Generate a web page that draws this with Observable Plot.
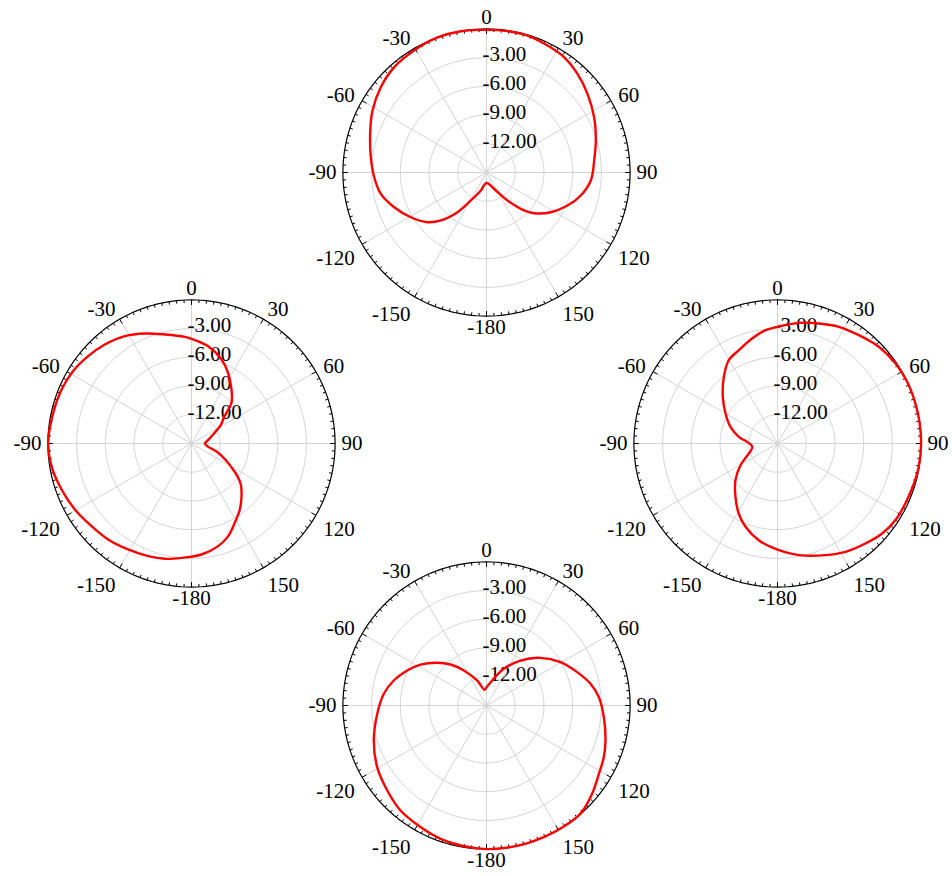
<!DOCTYPE html>
<html><head><meta charset="utf-8">
<script src="https://cdn.jsdelivr.net/npm/d3@7"></script>
<script src="https://cdn.jsdelivr.net/npm/@observablehq/plot@0.6"></script>
<style>
html,body{margin:0;padding:0;background:#fff;}
#chart{position:relative;width:952px;height:876px;overflow:hidden;background:#fff;}
#chart > svg{position:absolute;}
</style></head><body><div id="chart"></div>
<script>
// ---- scale / axis definitions ----
const dbMin = -15, dbMax = 0;
const ringLevels = [-12, -9, -6, -3];
const ringLabels = ["-12.00", "-9.00", "-6.00", "-3.00"];
const spokeAngles = [0, 30, 60, 90, 120, 150, 180, 210, 240, 270, 300, 330];
const angleTicks = [0, 30, 60, 90, 120, 150, 180, -150, -120, -90, -60, -30];
const angleTickLabels = ["0", "30", "60", "90", "120", "150", "-180", "-150", "-120", "-90", "-60", "-30"];

// ---- series: angle (deg, clockwise from top) and level (dB) ----
const topAngles = [-180, -162.5, -150.8, -143.8, -136.4, -130.1, -120.6, -110.6, -101.4, -92.4, -82.4, -71.6, -61.5, -51.1, -41.2, -30.7, -19.9, -10.3, 0, 8.5, 16.7, 25.7, 34, 42.7, 52.1, 62.8, 73.7, 83.6, 94.4, 103.7, 112.2, 121.7, 130.5, 136.6, 143.1, 152.6];
const topDb = [-13.9, -13.03, -11.65, -9.87, -8.08, -6.94, -5.82, -4.70, -3.74, -3.26, -2.81, -2.19, -1.45, -0.81, -0.37, -0.18, 0, 0, -0.1, -0.07, -0.06, -0.28, -0.48, -0.98, -1.63, -2.36, -3.10, -3.68, -4.07, -4.86, -5.86, -7.10, -8.45, -9.78, -11.34, -12.88];

const leftAngles = [-175, -167, -159, -149.1, -139, -129.6, -119.5, -109.5, -99.2, -89.7, -77.5, -67.4, -58.6, -49.8, -41.2, -31.8, -23, -13.7, -3.6, 0, 9.7, 19.7, 27.4, 36.5, 44.5, 50.8, 58, 67.4, 80, 90, 100, 108, 116, 121, 125, 129.7, 136.5, 143.8, 151.4, 158.4, 165.4, 174.9];
const leftDb = [-3.01, -2.64, -2.39, -2.10, -1.72, -1.45, -1.00, -0.60, -0.18, -0.03, -0.2, -0.3, -0.5, -0.87, -1.26, -1.80, -2.52, -3.28, -3.84, -4.07, -4.69, -5.68, -6.69, -7.98, -9.04, -10.6, -11.4, -12.55, -13.3, -13.6, -13.3, -12.2, -11.0, -10.1, -9.2, -8.3, -7.41, -6.45, -5.56, -4.59, -3.92, -3.36];

const rightAngles = [0, 10, 19, 27.7, 36.9, 46.3, 56, 65, 75, 82, 90, 100, 110, 122.6, 130.7, 138.7, 147.9, 156.7, 169.2, 179.3, 191, 201, 209, 218.2, 228.9, 239.6, 250.8, 262.5, 273.1, 279.8, 289.5, 300, 310.5, 321.2, 329.7, 337.5, 346.4, 354];
const rightDb = [-2.81, -2.2, -1.74, -1.23, -0.85, -0.37, -0.1, 0, 0, 0, 0, -0.05, -0.2, -0.3, -0.58, -1.09, -1.64, -2.30, -3.13, -3.86, -4.71, -5.68, -6.64, -7.90, -9.17, -10.52, -11.83, -12.35, -11.83, -10.90, -9.79, -8.73, -7.49, -6.06, -4.92, -4.45, -3.72, -3.10];

const bottomAngles = [-180, -169.5, -161, -151.5, -140.7, -130.6, -119.4, -107.3, -94.4, -83.5, -74.9, -66.2, -58.2, -49.1, -41.3, -32.9, -20.5, -7.3, 0, 12.8, 25.3, 37.1, 48.6, 59.6, 69.8, 78.2, 85.8, 95.7, 106.4, 113.8, 121.3, 129.9, 139, 148, 156, 164, 172];
const bottomDb = [0, -0.13, -0.27, -0.55, -0.82, -1.35, -1.89, -2.67, -3.55, -4.21, -4.97, -5.95, -6.89, -8.19, -9.30, -10.64, -12.20, -13.35, -13.1, -12.32, -10.76, -9.11, -7.47, -6.04, -4.91, -3.90, -3.23, -2.68, -2.04, -1.61, -1.26, -0.62, -0.03, 0, 0, 0, 0];

// ---- layout (pixel centres of the four panels) ----
const panels = [
  {angles: topAngles, db: topDb, cx: 485.7, cy: 172},
  {angles: leftAngles, db: leftDb, cx: 190.7, cy: 443.3},
  {angles: rightAngles, db: rightDb, cx: 777.3, cy: 443.3},
  {angles: bottomAngles, db: bottomDb, cx: 486, cy: 705}
];

const R = 143.6;          // outer radius in px
const S = 400;            // svg size
const half = S / 2 / R;   // domain half-extent in radius units
const FONT = "Liberation Serif, Times New Roman, serif";
const FS = 21;
const gridColor = "#d4d4d4";
const rad = v => (v - dbMin) / (dbMax - dbMin);
const toRad = a => a * Math.PI / 180;

function circlePts(r, key) {
  return d3.range(0, 361, 2).map(a => ({x: r * Math.sin(toRad(a)), y: r * Math.cos(toRad(a)), k: key}));
}

function panel(p) {
  const curve = p.angles.map((a, i) => {
    const r = rad(p.db[i]);
    return {x: r * Math.sin(toRad(a)), y: r * Math.cos(toRad(a))};
  });
  const rings = ringLevels.flatMap(v => circlePts(rad(v), v));
  const outer = circlePts(1, "o");
  const spokes = spokeAngles.map(a => ({x2: Math.sin(toRad(a)), y2: Math.cos(toRad(a))}));
  const ticks = d3.range(0, 360, 3).map(a => {
    const len = (a % 30 === 0 ? 5 : 3) / R;
    const s = Math.sin(toRad(a)), c = Math.cos(toRad(a));
    return {x1: s, y1: c, x2: (1 - len) * s, y2: (1 - len) * c};
  });
  const rLabels = ringLevels.map((v, i) => ({x: 0, y: rad(v), t: ringLabels[i]}));
  const aLabels = angleTicks.map((a, i) => {
    const s = Math.sin(toRad(a)), c = Math.cos(toRad(a));
    const side = Math.abs(s) < 0.01 ? "middle" : (s > 0 ? "start" : "end");
    const dx = (Math.abs(s) > 0.99 ? 150 : 152) * s / R;
    const extra = (c < -0.1 && Math.abs(s) > 0.1) ? 8 : 0;
    const dy = (155 * c - extra) / R;
    return {x: dx, y: dy, t: angleTickLabels[i], side};
  });
  const labelMark = side => Plot.text(aLabels.filter(d => d.side === side), {
    x: "x", y: "y", text: "t", textAnchor: side, lineAnchor: "middle",
    fontFamily: FONT, fontSize: FS, fill: "#000"
  });

  const svg = Plot.plot({
    width: S, height: S, margin: 0,
    x: {domain: [-half, half], axis: null},
    y: {domain: [-half, half], axis: null},
    style: {background: "transparent", overflow: "visible"},
    marks: [
      Plot.line(rings, {x: "x", y: "y", z: "k", stroke: gridColor, strokeWidth: 1}),
      Plot.link(spokes, {x1: 0, y1: 0, x2: "x2", y2: "y2", stroke: gridColor, strokeWidth: 1}),
      Plot.line(outer, {x: "x", y: "y", stroke: "#000", strokeWidth: 1.2}),
      Plot.link(ticks, {x1: "x1", y1: "y1", x2: "x2", y2: "y2", stroke: "#000", strokeWidth: 1}),
      Plot.text(rLabels, {x: "x", y: "y", text: "t", textAnchor: "start", lineAnchor: "middle", dx: -4, dy: -3, fontFamily: FONT, fontSize: FS, fill: "#000"}),
      labelMark("start"), labelMark("end"), labelMark("middle"),
      Plot.line(curve, {x: "x", y: "y", stroke: "#ff0000", strokeWidth: 2.4, curve: "catmull-rom-closed"})
    ]
  });
  svg.style.left = (p.cx - S / 2) + "px";
  svg.style.top = (p.cy - S / 2) + "px";
  return svg;
}

const chart = document.getElementById("chart");
panels.forEach(p => chart.appendChild(panel(p)));
</script>
</body></html>
